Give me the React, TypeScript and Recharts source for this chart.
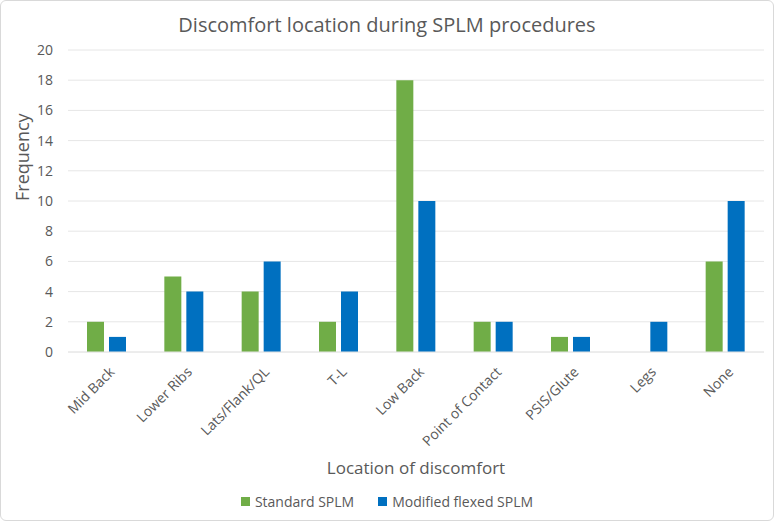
import React from 'react';
import { BarChart, Bar, XAxis, YAxis, CartesianGrid, Label } from 'recharts';

const locations = [
  'Mid Back',
  'Lower Ribs',
  'Lats/Flank/QL',
  'T-L',
  'Low Back',
  'Point of Contact',
  'PSIS/Glute',
  'Legs',
  'None',
];
const standardSplm = [2, 5, 4, 2, 18, 2, 1, 0, 6];
const modifiedFlexedSplm = [1, 4, 6, 4, 10, 2, 1, 2, 10];
const yTicks = [0, 2, 4, 6, 8, 10, 12, 14, 16, 18, 20];

const GREEN = '#70ad47';
const BLUE = '#0070c0';
const TEXT = '#595959';
const FONT = '"Open Sans", "Liberation Sans", sans-serif';

const data = locations.map((name, i) => ({
  name,
  standard: standardSplm[i],
  modified: modifiedFlexedSplm[i],
}));

// category labels turned 45 degrees, ending just under the tick
const AngledTick = ({ x, y, payload }: any) => (
  <text
    x={x + 5}
    y={y + 9}
    transform={`rotate(-45, ${x + 5}, ${y + 9})`}
    textAnchor="end"
    dominantBaseline="central"
    fill={TEXT}
    fontSize={14}
    fontFamily={FONT}
  >
    {payload.value}
  </text>
);

const App: React.FC = () => {
  return (
    <div
      style={{
        position: 'absolute',
        top: 0,
        left: 0,
        width: 774,
        height: 521,
        boxSizing: 'border-box',
        border: '1px solid #d9d9d9',
        borderRadius: 6,
        background: '#fff',
        fontFamily: FONT,
      }}
    >
      <div
        style={{
          position: 'absolute',
          top: 10,
          left: 0,
          width: 772,
          textAlign: 'center',
          fontSize: 20,
          color: TEXT,
        }}
      >
        Discomfort location during SPLM procedures
      </div>
      <BarChart
        width={772}
        height={519}
        data={data}
        margin={{ top: 49, right: 9, left: 0, bottom: 0 }}
        barSize={17}
        barGap={5}
        style={{ position: 'absolute', top: 0, left: 0 }}
      >
        <CartesianGrid vertical={false} stroke="#e6e6e6" />
        <XAxis
          dataKey="name"
          interval={0}
          height={168}
          tickLine={false}
          axisLine={{ stroke: '#e6e6e6' }}
          tick={<AngledTick />}
        >
          <Label
            value="Location of discomfort"
            position="insideTop"
            offset={110}
            fill={TEXT}
            fontSize={17}
            fontFamily={FONT}
          />
        </XAxis>
        <YAxis
          width={67}
          domain={[0, 20]}
          ticks={yTicks}
          tickLine={false}
          axisLine={false}
          tick={{ fill: TEXT, fontSize: 14, fontFamily: FONT }}
          tickMargin={9}
        >
          <Label
            value="Frequency"
            angle={-90}
            position="insideLeft"
            offset={22}
            fill={TEXT}
            fontSize={18}
            fontFamily={FONT}
          />
        </YAxis>
        <Bar dataKey="standard" fill={GREEN} isAnimationActive={false} />
        <Bar dataKey="modified" fill={BLUE} isAnimationActive={false} />
      </BarChart>
      <div
        style={{
          position: 'absolute',
          top: 491,
          left: 0,
          width: 772,
          display: 'flex',
          justifyContent: 'center',
          gap: 24,
          fontSize: 14,
          color: TEXT,
        }}
      >
        <div style={{ display: 'flex', alignItems: 'center', gap: 5 }}>
          <span style={{ width: 9, height: 9, background: GREEN, display: 'inline-block' }} />
          Standard SPLM
        </div>
        <div style={{ display: 'flex', alignItems: 'center', gap: 5 }}>
          <span style={{ width: 9, height: 9, background: BLUE, display: 'inline-block' }} />
          Modified flexed SPLM
        </div>
      </div>
    </div>
  );
};

export default App;
